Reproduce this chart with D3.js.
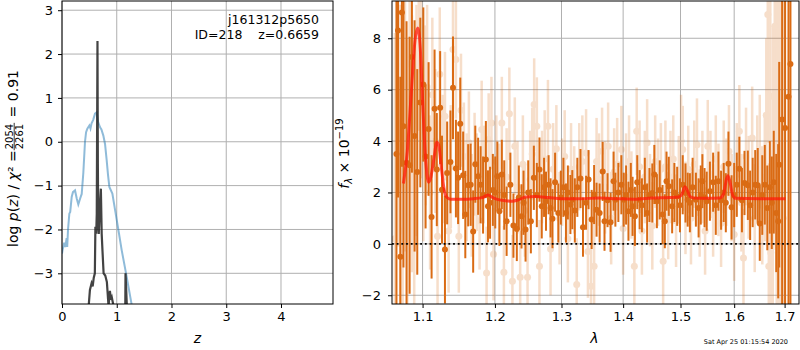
<!DOCTYPE html>
<html>
<head>
<meta charset="utf-8">
<script src="https://cdn.jsdelivr.net/npm/d3@7"></script>
<style>
  body { margin: 0; background: #fff; }
  text { font-family: "DejaVu Sans", sans-serif; }
</style>
</head>
<body>
<div id="chart"></div>
<script>
// ---- data ----
// left panel: log p(z) (blue) and chi2 curve (black)
const blueZ = [0.00, 0.01, 0.04, 0.06, 0.085, 0.095, 0.11, 0.134, 0.15, 0.177, 0.20, 0.238, 0.27, 0.298, 0.33, 0.36, 0.39, 0.42, 0.44, 0.463, 0.50, 0.52, 0.54, 0.57, 0.603, 0.634, 0.66, 0.695, 0.72, 0.755, 0.786, 0.816, 0.84, 0.865, 0.92, 0.97, 1.03, 1.09, 1.18, 1.27, 1.30]
const blueLogP = [-2.55, -2.47, -2.3, -2.4, -2.2, -2.4, -2.0, -1.64, -1.6, -1.26, -1.15, -1.11, -1.3, -1.43, -1.3, -1.19, -0.7, 0.0, 0.22, 0.3, 0.37, 0.3, 0.42, 0.5, 0.64, 0.67, 0.45, 0.33, 0.28, 0.14, -0.05, -0.42, -0.75, -1.03, -1.18, -1.56, -2.01, -2.47, -3.07, -3.7, -3.95]

const blackZ = [0.48, 0.49, 0.51, 0.54, 0.56, 0.58, 0.60, 0.61, 0.625, 0.635, 0.648, 0.655, 0.662, 0.672, 0.69, 0.71, 0.725, 0.74, 0.76, 0.79, 0.82, 0.85, 0.875, 0.895, 0.91, 0.95, 0.97, 1.10, 1.155, 1.16, 1.19]
const blackLogP = [-4.2, -3.7, -3.38, -3.23, -3.3, -3.1, -3.0, -1.94, -2.1, -1.64, 2.30, -0.5, -1.9, -2.1, -1.5, -1.07, -2.1, -2.5, -3.0, -3.05, -3.2, -3.75, -3.4, -3.6, -3.55, -3.8, -4.2, null, -4.0, -3.0, -3.9]

// right panel: spectrum [wavelength, flux, error]
const specDark = [
  [1.066,3.5,7],[1.068,8.3,6.5],[1.071,-0.5,7],[1.073,9.0,6],[1.075,4.58,5.5],[1.079,3.16,5.5],[1.083,3.06,5],[1.086,7.27,4.5],
  [1.0895,4.2,4.5],[1.093,2.8,4],[1.097,5.5,3.3],[1.101,6.2,3],[1.104,3.4,2.8],[1.108,4.47,2.6],[1.112,1.05,2.4],[1.116,5.26,2.3],
  [1.119,2.89,2.2],[1.1235,5.3,2.2],[1.126,2.11,2.1],[1.130,-0.22,2.1],[1.133,2.76,2.0],[1.1375,3.19,2.0],[1.141,6.07,2.0],[1.145,2.93,1.9],
  [1.148,2.57,1.8],[1.151,4.67,1.8],[1.155,2.67,1.7],[1.158,1.14,1.7],[1.162,2.28,1.6],[1.1655,2.3,1.6],[1.169,0.48,1.6],[1.172,3.1,1.5],
  [1.176,2.63,1.5],[1.1795,2.3,1.5],[1.183,1.9,1.5],[1.187,3.28,1.5],[1.190,1.46,1.4],[1.193,1.6,1.4],[1.197,2.1,1.4],[1.2005,2.0,1.4],
  [1.2035,2.63,1.35],[1.2065,1.27,1.35],[1.210,2.7,1.35],[1.2135,1.9,1.35],[1.217,0.88,1.35],[1.2225,2.3,1.25],[1.227,0.71,1.25],[1.232,0.58,1.25],
  [1.235,1.8,1.25],[1.239,1.07,1.25],[1.242,1.6,1.25],[1.245,0.56,1.25],[1.249,2.0,1.25],[1.253,0.88,1.25],[1.2575,2.57,1.25],[1.262,1.9,1.25],
  [1.266,2.89,1.25],[1.2695,1.46,1.25],[1.273,2.2,1.15],[1.276,1.66,1.15],[1.280,2.3,1.15],[1.283,1.4,1.15],[1.286,0.98,1.15],[1.290,2.4,1.15],
  [1.295,1.2,1.15],[1.299,1.8,1.05],[1.303,2.2,1.15],[1.307,1.2,1.15],[1.310,2.0,1.05],[1.314,1.53,1.15],[1.317,1.72,1.15],[1.321,1.3,1.25],
  [1.325,2.2,1.15],[1.330,2.54,1.15],[1.334,0.65,1.15],[1.339,1.6,1.05],[1.343,2.5,1.15],[1.348,0.95,1.15],[1.352,1.92,1.15],[1.356,1.33,1.05],
  [1.361,1.2,1.15],[1.366,2.82,1.15],[1.369,0.88,1.15],[1.374,1.7,1.05],[1.379,0.84,1.15],[1.384,2.44,1.15],[1.387,1.72,1.05],[1.392,2.0,1.15],
  [1.397,2.3,1.15],[1.401,1.72,1.05],[1.405,1.9,1.15],[1.409,1.27,1.15],[1.413,2.1,1.05],[1.416,1.46,1.15],[1.420,1.07,1.15],[1.424,2.4,1.05],
  [1.428,1.72,1.15],[1.432,1.5,1.05],[1.437,2.2,1.15],[1.441,1.2,1.15],[1.445,1.9,1.05],[1.450,1.98,1.15],[1.4535,2.7,1.15],[1.458,1.66,1.05],
  [1.463,2.1,1.15],[1.468,1.14,1.15],[1.472,0.88,1.05],[1.475,2.44,1.15],[1.479,2.24,1.15],[1.485,1.46,1.05],[1.489,2.0,1.15],[1.494,1.85,1.15],
  [1.499,1.5,1.05],[1.504,2.3,1.15],[1.509,1.98,1.15],[1.513,1.72,1.05],[1.517,1.6,1.15],[1.522,2.2,1.15],[1.528,1.72,1.05],[1.533,1.4,1.15],
  [1.537,1.9,1.15],[1.540,2.44,1.05],[1.544,1.8,1.15],[1.548,1.66,1.15],[1.554,2.05,1.15],[1.560,2.4,1.15],[1.565,1.5,1.15],[1.570,2.44,1.15],
  [1.575,1.7,1.15],[1.580,2.0,1.15],[1.584,1.6,1.15],[1.589,3.12,1.25],[1.595,1.42,1.25],[1.600,1.9,1.25],[1.605,2.3,1.25],[1.610,2.92,1.25],
  [1.615,1.7,1.25],[1.620,2.37,1.25],[1.6265,2.28,1.35],[1.631,1.5,1.35],[1.636,2.0,1.35],[1.641,2.3,1.35],[1.646,2.28,1.45],[1.650,0.79,1.45],
  [1.655,1.9,1.55],[1.660,2.3,1.55],[1.665,1.4,1.65],[1.670,2.2,1.8],[1.674,1.6,1.8],[1.678,2.4,2.0],[1.683,1.2,2.3],[1.687,0.88,3],
  [1.689,3.08,4],[1.695,4.84,8],[1.701,4.51,10],[1.708,5.72,12],[1.712,7.0,14]
]

const specLight = [
  [1.064,0.2,8],[1.068,6.9,7],[1.071,2.3,7],[1.074,0.5,6],[1.077,5.7,6],[1.080,2.5,5.5],[1.083,7.0,5],[1.086,3.9,5],
  [1.089,1.0,5],[1.092,4.8,4.5],[1.095,8.4,4],[1.098,6.55,4],[1.101,3.6,3.5],[1.104,5.0,3.5],[1.106,6.1,3.2],[1.110,2.0,3],
  [1.113,5.8,3],[1.117,4.0,2.8],[1.120,0.3,2.8],[1.123,6.6,2.6],[1.127,3.3,2.5],[1.130,4.97,2.5],[1.135,0.5,2.4],[1.138,3.0,2.4],
  [1.141,7.56,2.3],[1.145,7.17,2.3],[1.149,0.3,2.2],[1.152,5.2,2.2],[1.156,3.4,2.1],[1.160,2.2,2.1],[1.163,3.93,2.0],[1.167,1.5,2.0],
  [1.171,3.1,2.0],[1.174,2.4,1.9],[1.178,0.9,1.9],[1.181,4.45,1.9],[1.184,2.7,1.9],[1.188,-1.13,1.8],[1.191,4.06,1.8],[1.195,4.7,1.8],
  [1.198,-0.4,1.8],[1.202,3.2,1.8],[1.206,2.0,1.9],[1.210,4.7,1.8],[1.213,-1.1,1.8],[1.217,2.6,1.9],[1.221,5.06,1.8],[1.2255,-1.45,1.8],
  [1.229,3.8,1.9],[1.233,2.2,1.8],[1.237,-1.3,1.8],[1.241,3.1,1.9],[1.244,1.3,1.8],[1.248,-1.3,1.8],[1.252,2.5,1.9],[1.255,3.5,1.8],
  [1.258,5.42,1.8],[1.262,4.58,1.9],[1.266,-0.87,1.8],[1.270,2.6,1.8],[1.274,3.3,1.9],[1.279,4.58,1.8],[1.283,-0.2,1.8],[1.287,2.9,1.8],
  [1.292,3.7,1.7],[1.297,1.0,1.8],[1.301,2.4,1.7],[1.305,3.4,1.8],[1.310,0.2,1.7],[1.315,2.9,1.8],[1.320,2.1,1.7],[1.324,-1.58,1.8],
  [1.328,3.0,1.7],[1.333,3.2,1.8],[1.339,3.54,1.7],[1.342,-0.3,1.8],[1.347,-1.65,1.7],[1.352,-0.87,1.8],[1.356,3.2,1.7],[1.360,2.5,1.8],
  [1.365,3.6,1.7],[1.370,2.2,1.8],[1.375,3.8,1.7],[1.380,1.0,1.8],[1.385,2.8,1.7],[1.390,3.1,1.8],[1.397,3.67,1.7],[1.400,0.6,1.8],
  [1.405,2.6,1.7],[1.410,3.2,1.8],[1.414,1.9,1.7],[1.419,-0.87,1.8],[1.423,4.38,1.7],[1.428,3.0,1.8],[1.432,0.5,1.7],[1.437,2.6,1.8],
  [1.441,3.93,1.7],[1.446,1.7,1.8],[1.450,0.7,1.7],[1.455,3.2,1.8],[1.460,2.4,1.7],[1.465,2.9,1.8],[1.469,-0.68,1.7],[1.473,3.0,1.8],
  [1.478,1.1,1.7],[1.482,2.6,1.8],[1.487,3.3,1.7],[1.492,0.9,1.8],[1.497,2.5,1.7],[1.501,4.0,1.8],[1.504,3.67,1.7],[1.509,1.4,1.8],
  [1.514,2.9,1.7],[1.519,1.0,1.8],[1.525,3.1,1.7],[1.530,3.86,1.8],[1.535,1.2,1.7],[1.540,2.6,1.8],[1.545,0.5,1.7],[1.550,3.8,1.8],
  [1.555,2.7,1.7],[1.560,1.3,1.8],[1.565,3.3,1.7],[1.570,2.1,1.8],[1.575,0.8,1.7],[1.580,3.0,1.8],[1.585,2.4,1.7],[1.590,3.6,1.8],
  [1.595,1.8,1.7],[1.600,0.36,1.8],[1.605,2.9,1.8],[1.610,4.38,1.8],[1.614,1.6,1.9],[1.618,-0.55,1.9],[1.623,3.4,1.9],[1.628,2.2,2.0],
  [1.635,4.12,2.0],[1.640,1.0,2.1],[1.645,2.9,2.1],[1.650,3.6,2.2],[1.655,1.5,2.3],[1.660,2.6,2.5],[1.663,5.0,3],[1.666,8.92,5],
  [1.668,-0.87,4],[1.671,5.74,5],[1.672,-0.35,4],[1.676,2.4,6],[1.680,8.47,8],[1.682,7.76,8],[1.684,5.03,9],[1.688,3.5,10],
  [1.692,9.5,12],[1.697,1.0,12]
]

// best-fit template [wavelength, flux]
const specModel = [
  [1.075,2.35],[1.080,3.6],[1.085,5.8],[1.090,7.9],[1.0935,8.4],[1.097,7.6],[1.100,5.6],[1.104,3.3],[1.108,2.4],[1.111,2.6],
  [1.115,3.3],[1.119,3.95],[1.1215,3.85],[1.125,3.0],[1.129,2.1],[1.133,1.8],[1.138,1.74],[1.15,1.74],[1.17,1.76],[1.182,1.8],
  [1.19,1.9],[1.197,1.8],[1.205,1.72],[1.215,1.68],[1.225,1.66],[1.235,1.72],[1.245,1.82],[1.26,1.84],[1.28,1.8],[1.30,1.76],
  [1.33,1.76],[1.36,1.78],[1.39,1.76],[1.42,1.74],[1.45,1.78],[1.48,1.8],[1.497,1.82],[1.503,1.95],[1.508,2.22],[1.512,2.1],
  [1.517,1.85],[1.525,1.78],[1.55,1.77],[1.572,1.78],[1.58,1.95],[1.585,2.5],[1.588,2.65],[1.592,2.4],[1.597,1.9],[1.603,1.77],
  [1.65,1.76],[1.702,1.76]
]

const zTicks = [0, 1, 2, 3, 4]
const logPTicks = [-3, -2, -1, 0, 1, 2, 3]
const waveTicks = [1.1, 1.2, 1.3, 1.4, 1.5, 1.6, 1.7]
const fluxTicks = [-2, 0, 2, 4, 6, 8]

const W = 800, H = 350
const orange = "#da6b14"

const svg = d3.select("#chart").append("svg")
    .attr("width", W)
    .attr("height", H)

// panel boxes
const left = { x0: 62, x1: 333, y0: 1, y1: 304 }
const right = { x0: 392, x1: 799, y0: 1, y1: 304 }

const zScale = d3.scaleLinear().domain([0, 4.95]).range([left.x0, left.x1])
const lpScale = d3.scaleLinear().domain([-3.7, 3.21]).range([left.y1, left.y0])
const wScale = d3.scaleLog().domain([1.0603, 1.7297]).range([right.x0, right.x1])
const fScale = d3.scaleLinear().domain([-2.34, 9.45]).range([right.y1, right.y0])

const defs = svg.append("defs")
;[["clipL", left], ["clipR", right]].forEach(([id, b]) => {
  defs.append("clipPath").attr("id", id)
    .append("rect")
    .attr("x", b.x0).attr("y", b.y0)
    .attr("width", b.x1 - b.x0).attr("height", b.y1 - b.y0)
})

// grid lines
function grid(b, xs, xScale, ys, yScale) {
  const g = svg.append("g").attr("stroke", "#b0b0b0").attr("stroke-width", 1)
  g.selectAll(".gx").data(xs).join("line")
    .attr("x1", d => xScale(d)).attr("x2", d => xScale(d))
    .attr("y1", b.y0).attr("y2", b.y1)
  g.selectAll(".gy").data(ys).join("line")
    .attr("x1", b.x0).attr("x2", b.x1)
    .attr("y1", d => yScale(d)).attr("y2", d => yScale(d))
}
grid(left, zTicks, zScale, logPTicks, lpScale)
grid(right, waveTicks, wScale, fluxTicks, fScale)

// ---- left panel curves ----
const pl = svg.append("g").attr("clip-path", "url(#clipL)")

const lineZ = d3.line()
  .defined(d => d[1] != null)
  .x(d => zScale(d[0]))
  .y(d => lpScale(d[1]))

pl.append("path")
  .datum(d3.zip(blueZ, blueLogP))
  .attr("d", lineZ)
  .attr("fill", "none")
  .attr("stroke", "#1f77b4")
  .attr("stroke-opacity", 0.5)
  .attr("stroke-width", 2)

pl.append("path")
  .datum(d3.zip(blackZ, blackLogP))
  .attr("d", lineZ)
  .attr("fill", "none")
  .attr("stroke", "#222")
  .attr("stroke-opacity", 0.85)
  .attr("stroke-width", 2.2)

// ---- right panel spectrum ----
const pr = svg.append("g").attr("clip-path", "url(#clipR)")

function errSeries(data, opacity, barW, r) {
  const g = pr.append("g").attr("opacity", opacity)
  g.selectAll("line").data(data).join("line")
    .attr("x1", d => wScale(d[0])).attr("x2", d => wScale(d[0]))
    .attr("y1", d => fScale(d[1] - d[2])).attr("y2", d => fScale(d[1] + d[2]))
    .attr("stroke", orange)
    .attr("stroke-width", barW)
  g.selectAll("circle").data(data).join("circle")
    .attr("cx", d => wScale(d[0]))
    .attr("cy", d => fScale(d[1]))
    .attr("r", r)
    .attr("fill", orange)
}
errSeries(specLight, 0.22, 2.5, 3.5)
errSeries(specDark, 1, 2, 3)

pr.append("path")
  .datum(specModel)
  .attr("d", d3.line().curve(d3.curveMonotoneX).x(d => wScale(d[0])).y(d => fScale(d[1])))
  .attr("fill", "none")
  .attr("stroke", "#ff1a0a")
  .attr("stroke-opacity", 0.75)
  .attr("stroke-width", 3)

pr.append("line")
  .attr("x1", right.x0).attr("x2", right.x1)
  .attr("y1", fScale(0)).attr("y2", fScale(0))
  .attr("stroke", "#000")
  .attr("stroke-width", 1.8)
  .attr("stroke-dasharray", "1.8,2.9")

// ---- axes ----
function styleAxis(g) {
  g.select(".domain").remove()
  g.selectAll("text").attr("font-size", 13).attr("fill", "#000")
  g.selectAll("line").attr("stroke", "#000")
}

svg.append("g").attr("transform", `translate(0,${left.y1})`)
  .call(d3.axisBottom(zScale).tickValues(zTicks).tickSize(4).tickPadding(4).tickFormat(d3.format("d")))
  .call(styleAxis)
svg.append("g").attr("transform", `translate(${left.x0},0)`)
  .call(d3.axisLeft(lpScale).tickValues(logPTicks).tickSize(4).tickPadding(5).tickFormat(d3.format("d")))
  .call(styleAxis)
svg.append("g").attr("transform", `translate(0,${right.y1})`)
  .call(d3.axisBottom(wScale).tickValues(waveTicks).tickSize(4).tickPadding(4).tickFormat(d3.format(".1f")))
  .call(styleAxis)
svg.append("g").attr("transform", `translate(${right.x0},0)`)
  .call(d3.axisLeft(fScale).tickValues(fluxTicks).tickSize(4).tickPadding(7).tickFormat(d3.format("d")))
  .call(styleAxis)

// frames
;[left, right].forEach(b => {
  svg.append("rect")
    .attr("x", b.x0).attr("y", b.y0)
    .attr("width", b.x1 - b.x0).attr("height", b.y1 - b.y0)
    .attr("fill", "none").attr("stroke", "#000").attr("stroke-width", 1)
})

// ---- labels ----
svg.append("text")
  .attr("x", (left.x0 + left.x1) / 2).attr("y", 343)
  .attr("text-anchor", "middle").attr("font-size", 14).attr("font-style", "italic")
  .text("z")

svg.append("text")
  .attr("x", (right.x0 + right.x1) / 2 - 1).attr("y", 343)
  .attr("text-anchor", "middle").attr("font-size", 14).attr("font-style", "italic")
  .text("λ")

// object label in the corner
const info = svg.append("g").attr("font-size", 12.5).attr("text-anchor", "end")
info.append("text").attr("x", 319).attr("y", 24).text("j161312p5650")
info.append("text").attr("x", 319).attr("y", 38.5).style("white-space", "pre").text("ID=218    z=0.6659")

// left y label with stacked fraction
const ylab = svg.append("g")
const t1 = ylab.append("text").attr("font-size", 14)
t1.append("tspan").text("log ")
t1.append("tspan").attr("font-style", "italic").text("p")
t1.append("tspan").text("(")
t1.append("tspan").attr("font-style", "italic").text("z")
t1.append("tspan").text(") / ")
t1.append("tspan").attr("font-style", "italic").text("χ")
t1.append("tspan").text("² = ")
const w1 = t1.node().getComputedTextLength()
const num = ylab.append("text").attr("font-size", 10).attr("x", w1 + 1).attr("y", -5.5).text("2054")
const fw = num.node().getComputedTextLength()
ylab.append("text").attr("font-size", 10).attr("x", w1 + 1).attr("y", 5).text("2261")
ylab.append("line")
  .attr("x1", w1).attr("x2", w1 + fw + 2)
  .attr("y1", -3.8).attr("y2", -3.8)
  .attr("stroke", "#000").attr("stroke-width", 0.8)
const t2 = ylab.append("text").attr("font-size", 14).attr("x", w1 + fw + 3)
  .style("white-space", "pre").text(" = 0.91")
const Ltot = w1 + fw + 3 + t2.node().getComputedTextLength()
ylab.attr("transform", `translate(18,${158.5 + Ltot / 2}) rotate(-90)`)

// right y label
const flab = svg.append("g")
const ft = flab.append("text").attr("font-size", 14)
ft.append("tspan").attr("font-style", "italic").text("f")
ft.append("tspan").attr("font-style", "italic").attr("font-size", 10).attr("dy", 3).text("λ")
ft.append("tspan").attr("dy", -3).style("white-space", "pre").text(" × 10")
ft.append("tspan").attr("font-size", 10).attr("dy", -6).text("−19")
const fl = ft.node().getComputedTextLength()
flab.attr("transform", `translate(349,${153.5 + fl / 2}) rotate(-90)`)

// timestamp
svg.append("text")
  .attr("x", 788).attr("y", 344)
  .attr("text-anchor", "end").attr("font-size", 6.5)
  .text("Sat Apr 25 01:15:54 2020")
</script>
</body>
</html>
